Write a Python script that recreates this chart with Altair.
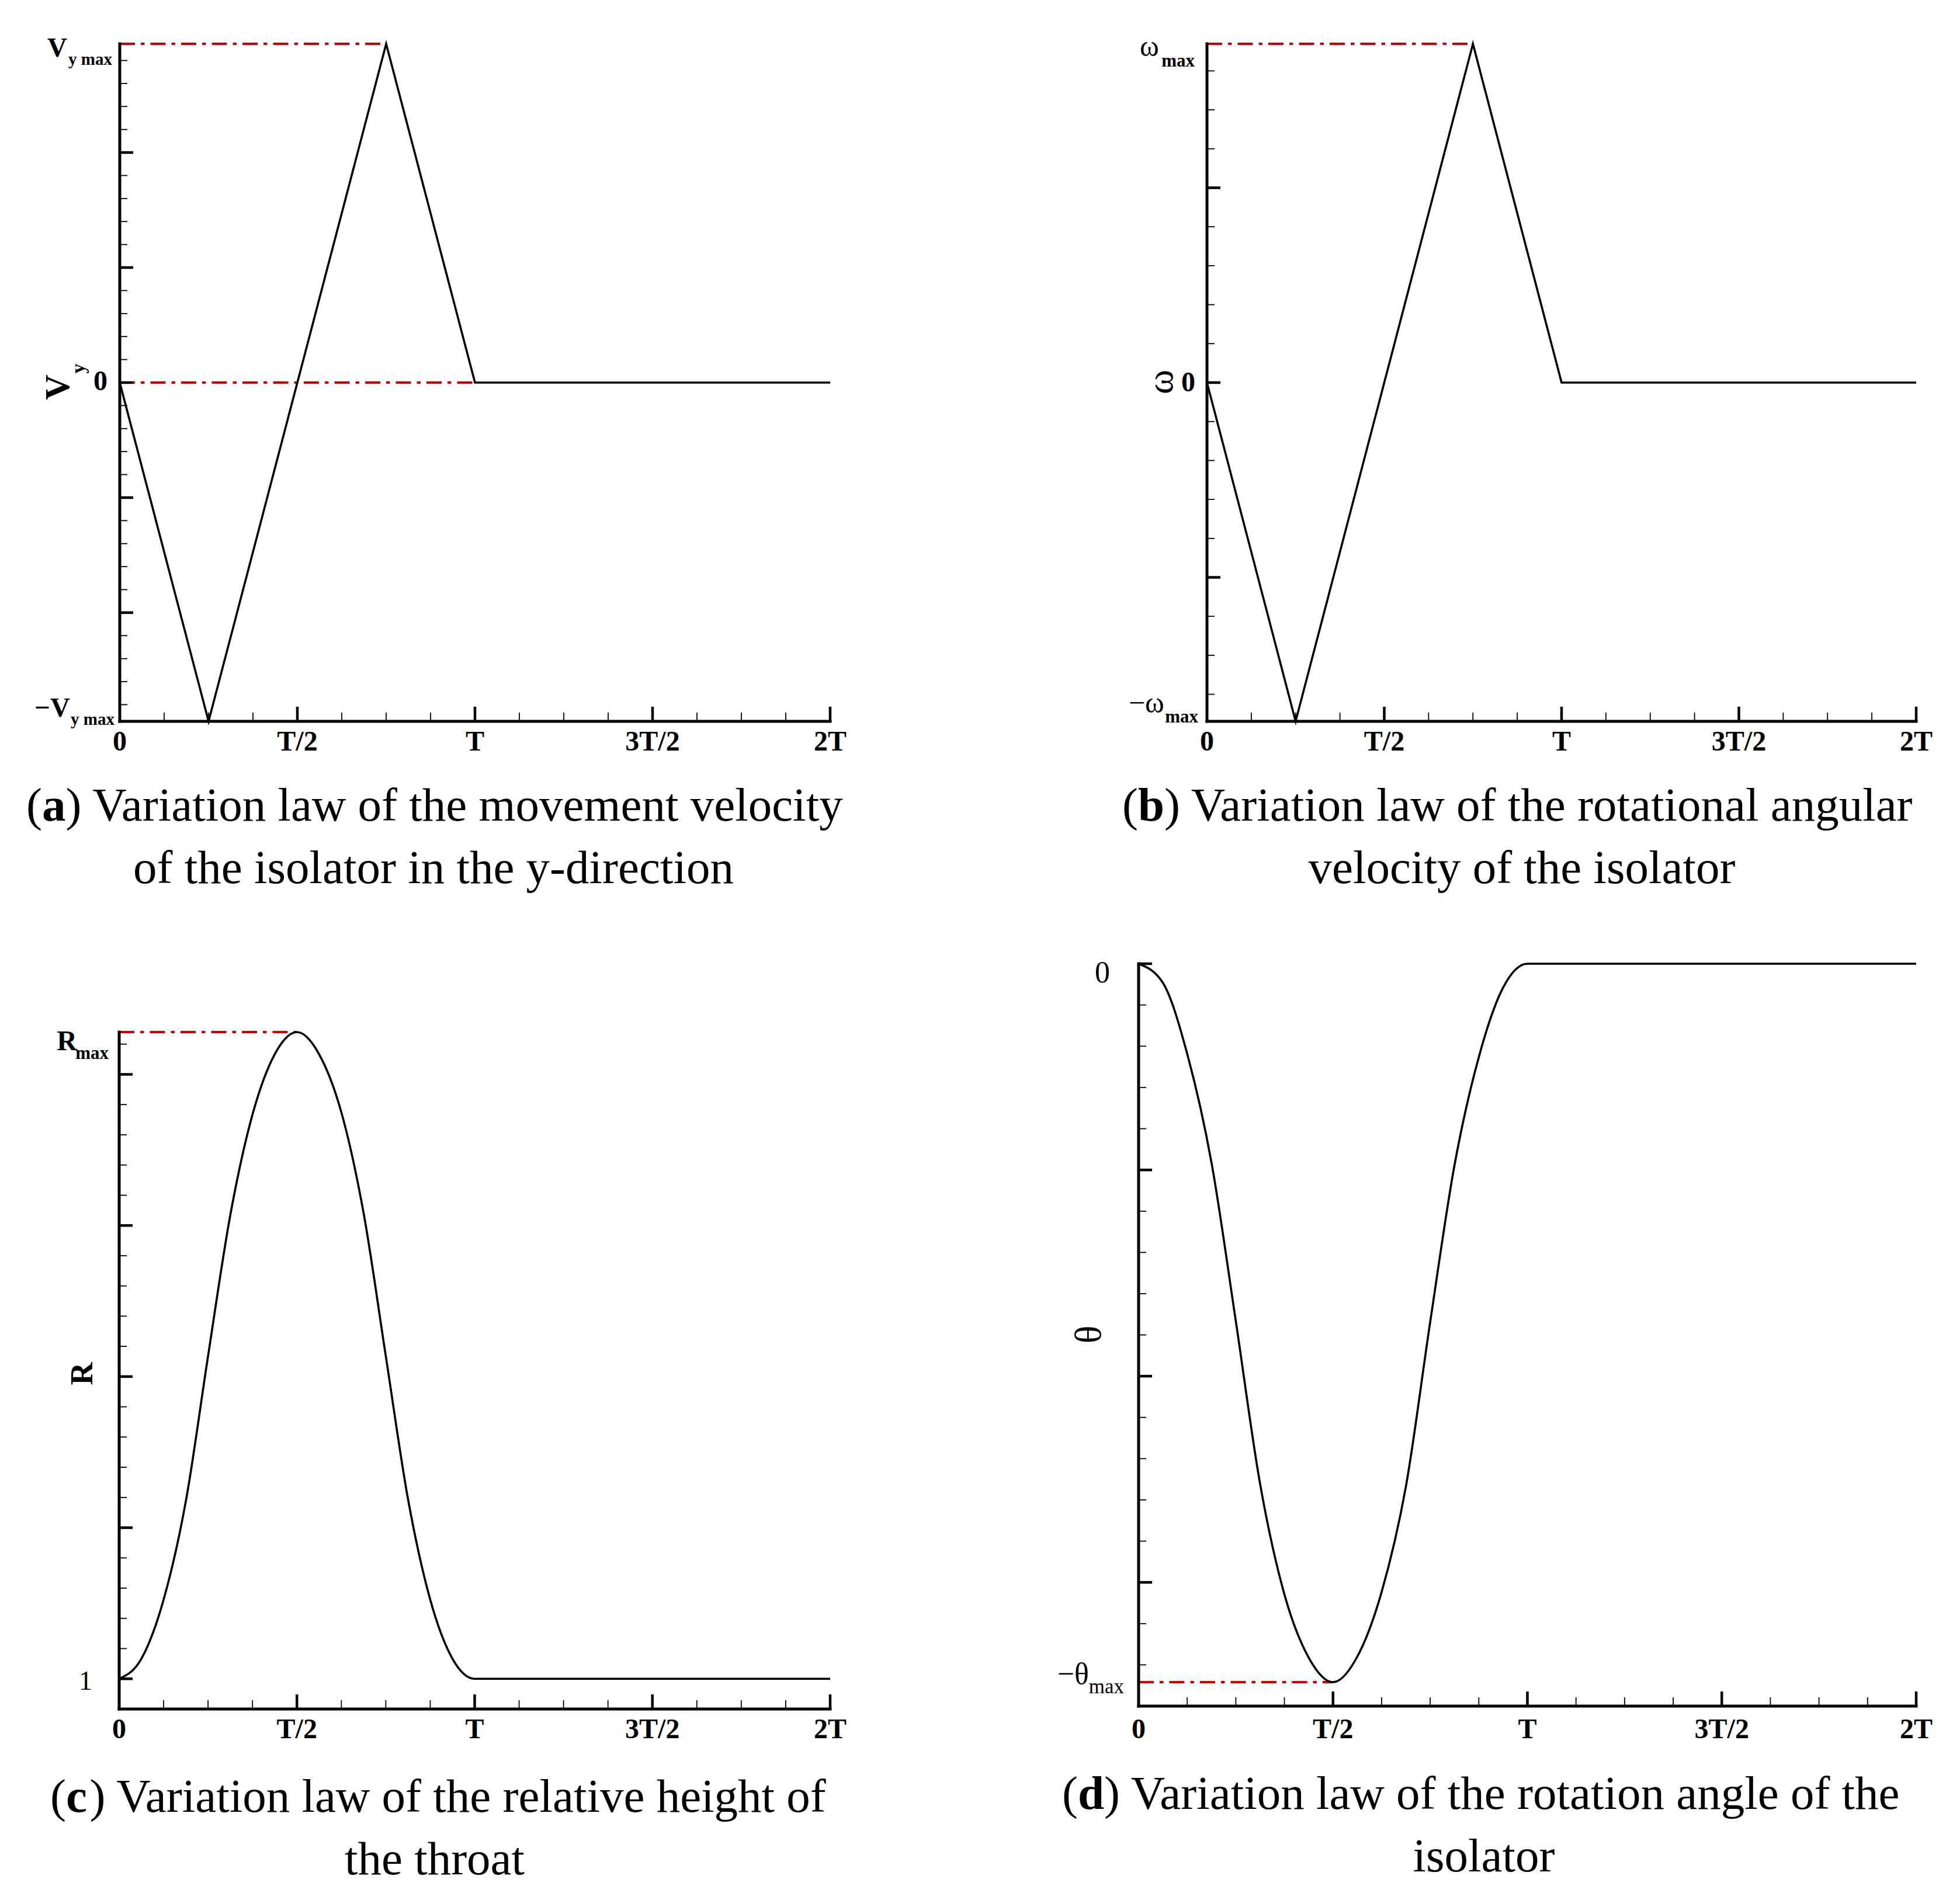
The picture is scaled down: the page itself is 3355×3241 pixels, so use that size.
import altair as alt
import pandas as pd

# ---------------- data ----------------
T_LABEL_POS = [0, 0.5, 1.0, 1.5, 2.0]
T_LABELS = ["0", "T/2", "T", "3T/2", "2T"]

# (a) velocity in y-direction (units of major tick)
VY_T = [0, 0.25, 0.75, 1.0, 2.0]
VY = [0, -2.945, 2.945, 0, 0]
VY_MAX = 2.945

# (b) rotational angular velocity
W_T = [0, 0.25, 0.75, 1.0, 2.0]
W = [0, -1.739, 1.739, 0, 0]
W_MAX = 1.739

# (c) relative throat height
R_T = [0, 0.0625, 0.125, 0.1875, 0.25, 0.3125, 0.375, 0.4375, 0.5,
       0.5625, 0.625, 0.6875, 0.75, 0.8125, 0.875, 0.9375, 1.0, 2.0]
R = [1.000, 1.0133, 1.0524, 1.1175, 1.2136, 1.3068, 1.3734, 1.4133, 1.428,
     1.4133, 1.3749, 1.3083, 1.2136, 1.1189, 1.0524, 1.0133, 1.000, 1.000]
R_MAX = 1.428

# (d) rotation angle
TH_T = [0, 0.0625, 0.125, 0.1875, 0.25, 0.3125, 0.375, 0.4375, 0.5,
        0.5625, 0.625, 0.6875, 0.75, 0.8125, 0.875, 0.9375, 1.0, 2.0]
TH = [0, -0.0093, -0.0437, -0.0965, -0.1733, -0.2523, -0.3058, -0.3365, -0.3484,
      -0.3360, -0.3047, -0.2535, -0.1737, -0.0977, -0.0453, -0.0116, 0, 0]
TH_MAX = 0.3484

CAPTIONS = {
    "a": ["a", ") Variation law of the movement velocity", "of the isolator in the y-direction"],
    "b": ["b", ") Variation law of the rotational angular", "velocity of the isolator"],
    "c": ["c", ") Variation law of the relative height of", "the throat"],
    "d": ["d", ") Variation law of the rotation angle of the", "isolator"],
}

X_MAJOR = [0.5, 1.0, 1.5, 2.0]
X_MINOR = [k / 8 for k in range(1, 16) if k % 4 != 0]

BLACK = "#000000"
RED = "#d10000"
SERIF = "Liberation Serif"
DASH = [26, 10, 6.5, 10]

FIG_W, FIG_H = 3339, 3225


def one(**kw):
    return pd.DataFrame({k: [v] for k, v in kw.items()})


def panel(xrange_px, yrange_px, ydom, curve_t, curve_v, interp, reds, ymaj, ymin_,
          yline, ylabels, titles, cap, cap_left, cap2_center, cap_base, xlab_base):
    ys = alt.Scale(domain=ydom, range=yrange_px, nice=False, zero=False)
    xsc = alt.Scale(domain=[0, 2], range=xrange_px, nice=False, zero=False)
    ybot = ydom[0]

    def X(f):
        return alt.X(f, type="quantitative", scale=xsc, axis=None)

    def Y(f):
        return alt.Y(f, type="quantitative", scale=ys, axis=None)

    layers = []
    # red dash-dot reference lines
    red_df = pd.DataFrame(reds, columns=["x0", "x1", "y"])
    layers.append(alt.Chart(red_df).mark_rule(color=RED, strokeWidth=4, strokeDash=DASH)
                  .encode(x=X("x0"), x2="x1", y=Y("y")))
    # curve
    layers.append(alt.Chart(pd.DataFrame({"t": curve_t, "v": curve_v}))
                  .mark_line(color=BLACK, strokeWidth=3.6, interpolate=interp)
                  .encode(x=X("t"), y=Y("v")))
    # axis lines
    layers.append(alt.Chart(one(z=0, a=yline[0], b=yline[1]))
                  .mark_rule(color=BLACK, strokeWidth=5, strokeCap="square")
                  .encode(x=X("z"), y=Y("a"), y2="b"))
    layers.append(alt.Chart(one(a=0, b=2, y=ybot))
                  .mark_rule(color=BLACK, strokeWidth=5, strokeCap="square")
                  .encode(y=Y("y"), x=X("a"), x2="b"))
    # y ticks (inward)
    layers.append(alt.Chart(pd.DataFrame({"v": ymaj, "z": 0}))
                  .mark_rule(color=BLACK, strokeWidth=4.5, x2Offset=23)
                  .encode(y=Y("v"), x=X("z"), x2="z"))
    layers.append(alt.Chart(pd.DataFrame({"v": ymin_, "z": 0}))
                  .mark_rule(color=BLACK, strokeWidth=1.8, x2Offset=13)
                  .encode(y=Y("v"), x=X("z"), x2="z"))
    # x ticks (inward)
    layers.append(alt.Chart(pd.DataFrame({"v": X_MAJOR, "z": ybot}))
                  .mark_rule(color=BLACK, strokeWidth=4.5, y2Offset=-25)
                  .encode(x=X("v"), y=Y("z"), y2="z"))
    layers.append(alt.Chart(pd.DataFrame({"v": X_MINOR, "z": ybot}))
                  .mark_rule(color=BLACK, strokeWidth=1.8, y2Offset=-15)
                  .encode(x=X("v"), y=Y("z"), y2="z"))
    # x tick labels
    layers.append(alt.Chart(pd.DataFrame({"v": T_LABEL_POS, "txt": T_LABELS, "z": ybot}))
                  .mark_text(font=SERIF, fontSize=48, fontWeight="bold", align="center",
                             baseline="alphabetic", dy=xlab_base, color=BLACK)
                  .encode(x=X("v"), y=Y("z"), text="txt:N"))
    # y tick labels
    for (val, txt, xoff, dy, size, weight) in ylabels:
        layers.append(alt.Chart(one(z=0, v=val, txt=txt))
                      .mark_text(font=SERIF, fontSize=size, fontWeight=weight, align="right",
                                 baseline="alphabetic", dx=xoff, dy=dy, color=BLACK)
                      .encode(y=Y("v"), x=X("z"), text="txt:N"))
    # axis titles (rotated), offsets measured from the panel's top-left corner
    for (txt, xc, yc, size, weight) in titles:
        layers.append(alt.Chart(one(z=0, top=ydom[1], txt=txt))
                      .mark_text(font=SERIF, fontSize=size, fontWeight=weight, angle=270,
                                 align="center", baseline="middle", color=BLACK,
                                 xOffset=xc, yOffset=yc)
                      .encode(x=X("z"), y=Y("top"), text="txt:N"))
    # caption (two lines, bold panel letter)
    letter, rest, line2 = cap
    lw = 45 if letter in ("b", "d") else 40.5
    parts = [("(", "normal", "left", cap_left, cap_base),
             (letter, "bold", "left", cap_left + 27, cap_base),
             (rest, "normal", "left", cap_left + 27 + lw, cap_base),
             (line2, "normal", "center", cap2_center, cap_base + 107)]
    for (txt, weight, align, xo, yo) in parts:
        layers.append(alt.Chart(one(z=0, y=ybot, txt=txt))
                      .mark_text(font=SERIF, fontSize=81, fontWeight=weight, align=align,
                                 baseline="alphabetic", color=BLACK, xOffset=xo, yOffset=yo)
                      .encode(x=X("z"), y=Y("y"), text="txt:N"))
    return alt.layer(*layers)


A = panel(
    [197, 1413], [1227, 67], [-VY_MAX, VY_MAX], VY_T, VY, "linear",
    [(0, 0.75, VY_MAX), (0, 1.0, 0)],
    [-2, -1, 0, 1, 2],
    [round(k * 0.2, 3) for k in range(-14, 15) if k % 5 != 0],
    [-VY_MAX, VY_MAX],
    [(VY_MAX, "V", -90, 22, 47, "bold"), (VY_MAX, "y max", -13, 36, 29, "bold"),
     (0, "0", -21, 13, 48, "bold"),
     (-VY_MAX, "\u2212V", -85, -8, 47, "bold"), (-VY_MAX, "y max", -9, 6, 29, "bold")],
    [("V", -105, 588, 60, "bold"), ("y", -70, 556, 34, "bold")],
    CAPTIONS["a"], -160, 537, 170, 50)

B = panel(
    [2058, 3272], [1227, 67], [-W_MAX, W_MAX], W_T, W, "linear",
    [(0, 0.75, W_MAX)],
    [-1, 0, 1],
    [round(k * 0.2, 3) for k in range(-8, 9) if k % 5 != 0],
    [-W_MAX, W_MAX],
    [(W_MAX, "\u03c9", -82, 21, 50, "normal"), (W_MAX, "max", -21, 39, 31, "bold"),
     (0, "0", -20, 15, 48, "bold"),
     (-W_MAX, "\u2212\u03c9", -73, -15, 50, "normal"), (-W_MAX, "max", -15, 2, 31, "bold")],
    [("\u03c9", -78, 579, 64, "normal")],
    CAPTIONS["b"], -145, 539, 170, 50)

C = panel(
    [196, 1413], [2918, 1759], [0.98, R_MAX], R_T, R, "monotone",
    [(0, 0.5, R_MAX)],
    [1.0, 1.1, 1.2, 1.3, 1.4],
    [round(1 + k * 0.02, 3) for k in range(1, 22) if k % 5 != 0],
    [0.98, R_MAX],
    [(R_MAX, "R", -72, 31, 48, "bold"), (R_MAX, "max", -18, 46, 31, "bold"),
     (1.0, "1", -46, 19, 46, "normal")],
    [("R", -62, 585, 54, "bold")],
    CAPTIONS["c"], -118, 540, 176, 50)

D = panel(
    [1941, 3272], [2913, 1642], [-0.36, 0], TH_T, TH, "monotone",
    [(0, 0.5, -TH_MAX)],
    [0, -0.1, -0.2, -0.3],
    [round(-k * 0.02, 3) for k in range(1, 18) if k % 5 != 0],
    [-0.36, 0],
    [(0, "0", -49, 32, 52, "normal"),
     (-TH_MAX, "\u2212\u03b8", -85, 3, 52, "normal"), (-TH_MAX, "max", -25, 19, 35, "normal")],
    [("\u03b8", -84, 635, 64, "normal")],
    CAPTIONS["d"], -131, 591, 176, 55)

chart = (alt.layer(A, B, C, D)
         .resolve_scale(x="independent", y="independent")
         .properties(width=FIG_W, height=FIG_H, padding=0, background="white")
         .configure_view(stroke=None))

chart.save("out.html", embed_options={"renderer": "svg", "actions": False})
